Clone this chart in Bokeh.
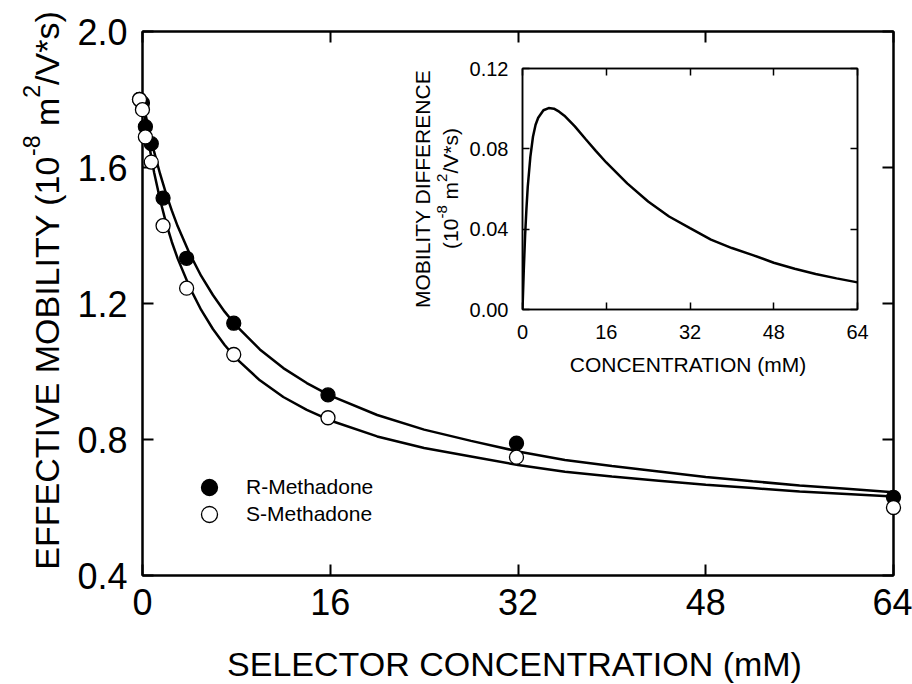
import math
from bokeh.plotting import figure
from bokeh.models import (Range1d, LinearAxis, FixedTicker, Label, Legend, LegendItem,
                          GridBox, NumeralTickFormatter)
from bokeh.embed import file_html
from bokeh.resources import INLINE

# ---------------- data ----------------
conc_pts = [0, 0.25, 0.5, 1, 2, 4, 8, 16, 32, 64]
r_pts = [1.80, 1.79, 1.72, 1.67, 1.51, 1.333, 1.142, 0.931, 0.789, 0.630]
s_pts = [1.80, 1.77, 1.69, 1.616, 1.429, 1.245, 1.050, 0.864, 0.748, 0.600]

conc_fit = [0, 0.25, 0.5, 0.75, 1, 1.5, 2, 2.5, 3, 4, 5, 6, 7, 8, 10, 12, 14, 16,
            20, 24, 28, 32, 36, 40, 44, 48, 52, 56, 60, 64]
r_fit = [1.800, 1.757, 1.718, 1.680, 1.645, 1.581, 1.524, 1.473, 1.427, 1.348, 1.281,
         1.225, 1.176, 1.134, 1.065, 1.010, 0.966, 0.929, 0.872, 0.829, 0.796, 0.765,
         0.740, 0.722, 0.706, 0.690, 0.677, 0.665, 0.655, 0.645]
s_fit = [1.800, 1.737, 1.681, 1.630, 1.584, 1.505, 1.438, 1.381, 1.332, 1.249, 1.181,
         1.125, 1.078, 1.038, 0.974, 0.925, 0.887, 0.856, 0.809, 0.775, 0.750, 0.725,
         0.705, 0.691, 0.679, 0.667, 0.657, 0.647, 0.640, 0.632]
diff_fit = [0, 0.020, 0.037, 0.050, 0.061, 0.076, 0.086, 0.092, 0.0955, 0.0992, 0.1003,
            0.1000, 0.0985, 0.0965, 0.0912, 0.0850, 0.0790, 0.0732, 0.0628, 0.0538,
            0.0463, 0.0405, 0.0348, 0.0306, 0.0271, 0.0233, 0.0203, 0.0177, 0.0155, 0.0135]

x_ticks = [0, 16, 32, 48, 64]
x_tick_labels = ["0", "16", "32", "48", "64"]
y_ticks = [0.4, 0.8, 1.2, 1.6, 2.0]
y_tick_labels = ["0.4", "0.8", "1.2", "1.6", "2.0"]
inset_y_ticks = [0.0, 0.04, 0.08, 0.12]
inset_y_tick_labels = ["0.00", "0.04", "0.08", "0.12"]

series_names = ["R-Methadone", "S-Methadone"]

FONT = "Liberation Sans"

# Arial advance widths (per 1000 em) for laying out composed titles
AW = {' ': 278, '(': 333, ')': 333, '-': 333, '*': 389, '/': 278, '.': 278,
      'A': 667, 'B': 667, 'C': 722, 'D': 722, 'E': 667, 'F': 611, 'I': 278, 'L': 556,
      'M': 833, 'N': 722, 'O': 778, 'R': 722, 'S': 667, 'T': 611, 'V': 667, 'Y': 667,
      'm': 833, 's': 500}
for d in "0123456789":
    AW[d] = 556


def tw(s, size):
    return sum(AW.get(c, 556) for c in s) / 1000.0 * size


def no_frame_align(fig):
    try:
        fig.frame_align = False
    except Exception:
        pass


def style_axis(ax, ticks, labels, fmt, font_px, tick_len, lw, standoff, show=True):
    ax.ticker = FixedTicker(ticks=ticks)
    ax.formatter = NumeralTickFormatter(format=fmt)
    ax.major_label_overrides = {t: l for t, l in zip(ticks, labels)}
    ax.minor_tick_line_color = None
    ax.major_tick_in = tick_len
    ax.major_tick_out = 0
    ax.major_tick_line_width = lw
    ax.major_tick_line_color = "black"
    ax.axis_line_width = lw
    ax.axis_line_color = "black"
    ax.axis_label = None
    ax.major_label_text_font = FONT
    if show:
        ax.major_label_text_color = "black"
        ax.major_label_text_font_size = f"{font_px}px"
        ax.major_label_standoff = standoff
    else:
        ax.major_label_text_color = None
        ax.major_label_text_font_size = "1px"
        ax.major_label_standoff = 0


W, H = 912, 684


def canvas_label(fig, sx, sy, text, size, align="center", baseline="middle", angle=0.0):
    fig.add_layout(Label(x=sx, y=H - sy, x_units="screen", y_units="screen", text=text,
                         angle=angle, text_align=align, text_baseline=baseline,
                         text_font=FONT, text_font_size=f"{size}px", text_color="black"))


def vertical_title(fig, segments, base_x, sup_x, center_y, size, sup_size):
    """segments: list of (text, is_sup, lead_space). Text reads bottom -> top."""
    total = 0.0
    for txt, sup, lead in segments:
        total += tw(" ", size) if lead else 0.0
        total += tw(txt, sup_size if sup else size)
    y = center_y + total / 2.0
    for txt, sup, lead in segments:
        if lead:
            y -= tw(" ", size)
        fs = sup_size if sup else size
        canvas_label(fig, sup_x if sup else base_x, y, txt, fs, align="left",
                     baseline="alphabetic", angle=math.pi / 2)
        y -= tw(txt, fs)


# ---------------- main figure (axes + fitted curves) ----------------
ML, MR, MT, MB = 139, 893, 31, 575
p = figure(width=W, height=H, x_range=Range1d(0, 64), y_range=Range1d(0.4, 2.0),
           output_backend="svg", toolbar_location=None,
           min_border_left=ML, min_border_right=W - MR, min_border_top=MT, min_border_bottom=H - MB)
p.xgrid.visible = False
p.ygrid.visible = False
p.outline_line_color = "black"
p.outline_line_width = 2
p.background_fill_color = "white"
p.border_fill_color = "white"

style_axis(p.xaxis[0], x_ticks, x_tick_labels, "0", 36, 11, 2, 13)
style_axis(p.yaxis[0], y_ticks, y_tick_labels, "0.0", 36, 11, 2, 15)
top_ax = LinearAxis()
right_ax = LinearAxis()
style_axis(top_ax, x_ticks, x_tick_labels, "0", 36, 11, 2, 0, show=False)
style_axis(right_ax, y_ticks, y_tick_labels, "0.0", 36, 11, 2, 0, show=False)
p.add_layout(top_ax, "above")
p.add_layout(right_ax, "right")

p.line(conc_fit, r_fit, line_color="black", line_width=2.5)
p.line(conc_fit, s_fit, line_color="black", line_width=2.5)

# ---------------- inset figure ----------------
IX0, IY0 = 380, 50
IW, IH = 495, 340
IL, IR, IT, IB = 522, 857, 68, 309
ins = figure(width=IW, height=IH, x_range=Range1d(0, 64), y_range=Range1d(0, 0.12),
             output_backend="svg", toolbar_location=None,
             min_border_left=IL - IX0, min_border_right=IX0 + IW - IR,
             min_border_top=IT - IY0, min_border_bottom=IY0 + IH - IB)
no_frame_align(ins)
ins.margin = (IY0, 0, 0, IX0)
ins.xgrid.visible = False
ins.ygrid.visible = False
ins.outline_line_color = "black"
ins.outline_line_width = 1.5
ins.background_fill_color = "white"
ins.border_fill_color = None

style_axis(ins.xaxis[0], x_ticks, x_tick_labels, "0", 20, 7, 1.5, 15)
style_axis(ins.yaxis[0], inset_y_ticks, inset_y_tick_labels, "0.00", 20, 7, 1.5, 14)
itop = LinearAxis()
iright = LinearAxis()
style_axis(itop, x_ticks, x_tick_labels, "0", 20, 7, 1.5, 0, show=False)
style_axis(iright, inset_y_ticks, inset_y_tick_labels, "0.00", 20, 7, 1.5, 0, show=False)
ins.add_layout(itop, "above")
ins.add_layout(iright, "right")

ins.line(conc_fit, diff_fit, line_color="black", line_width=2.5)

# ---------------- full-canvas overlay: data points, legend, all titles ----------------
pxu = (MR - ML) / 64.0
pyu = (MB - MT) / 1.6
ovl = figure(width=W, height=H,
             x_range=Range1d(0 - ML / pxu, 64 + (W - MR) / pxu),
             y_range=Range1d(0.4 - (H - MB) / pyu, 2.0 + MT / pyu),
             output_backend="svg", toolbar_location=None,
             x_axis_location=None, y_axis_location=None,
             min_border_left=0, min_border_right=0, min_border_top=0, min_border_bottom=0)
no_frame_align(ovl)
ovl.xgrid.visible = False
ovl.ygrid.visible = False
ovl.outline_line_color = None
ovl.background_fill_color = None
ovl.border_fill_color = None

rr = ovl.scatter(conc_pts, r_pts, marker="circle", size=14, fill_color="black",
                 line_color="black", line_width=1.3)
rs = ovl.scatter(conc_pts, s_pts, marker="circle", size=14, fill_color="white",
                 line_color="black", line_width=1.3)

for name, rend, cy in [(series_names[0], rr, 487), (series_names[1], rs, 514)]:
    leg = Legend(items=[LegendItem(label=name, renderers=[rend])],
                 location=(189, H - (cy + 20)),
                 border_line_color=None, background_fill_alpha=0,
                 padding=0, margin=0, spacing=0,
                 glyph_width=40, glyph_height=40, label_height=40,
                 label_standoff=17, label_text_font=FONT, label_text_font_size="21px",
                 label_text_color="black")
    ovl.add_layout(leg)

# main axis titles
canvas_label(ovl, (ML + MR) / 2 - 2, 663, "SELECTOR CONCENTRATION (mM)", 34)
vertical_title(ovl, [("EFFECTIVE MOBILITY (10", False, False), ("-8", True, False),
                     ("m", False, True), ("2", True, False), ("/V*s)", False, False)],
               base_x=46, sup_x=31, center_y=290, size=34, sup_size=23)

# inset axis titles
canvas_label(ovl, (IL + IR) / 2 - 2, 364, "CONCENTRATION (mM)", 21)
canvas_label(ovl, 422, 188.5, "MOBILITY DIFFERENCE", 21, align="center",
             baseline="alphabetic", angle=math.pi / 2)
vertical_title(ovl, [("(10", False, False), ("-8", True, False), ("m", False, True),
                     ("2", True, False), ("/V*s)", False, False)],
               base_x=450, sup_x=441, center_y=188, size=21, sup_size=15)

layout = GridBox(children=[(p, 0, 0), (ins, 0, 0), (ovl, 0, 0)])

open("out.html", "w").write(file_html(layout, INLINE))
